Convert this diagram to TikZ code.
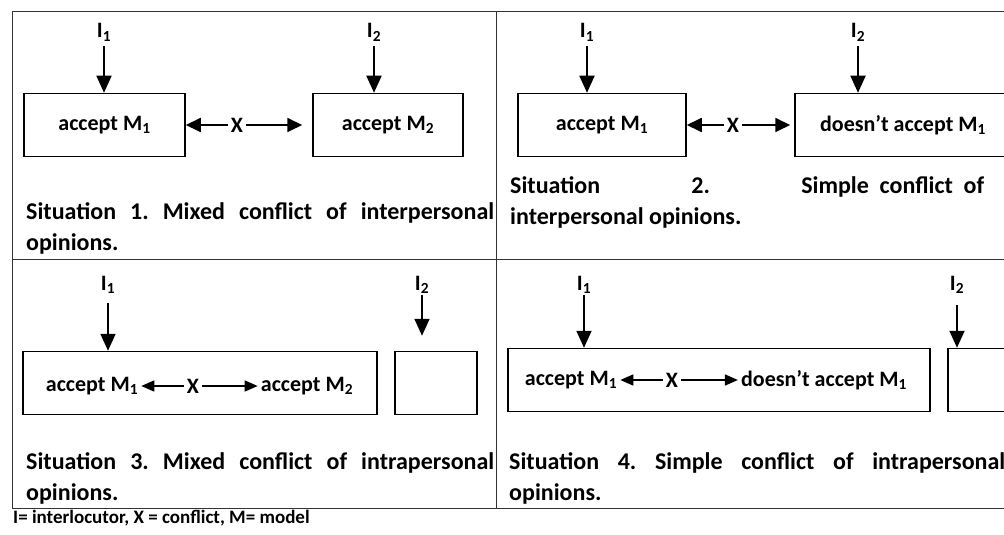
\documentclass[tikz,border=0pt]{standalone}
\usepackage{fontspec}
\setmainfont{Carlito}
\usetikzlibrary{arrows.meta}
\frenchspacing

\begin{document}
\begin{tikzpicture}[x=1pt, y=-1pt,
    frame/.style={line width=1pt, draw=black!80},
    box/.style={draw, line width=1.5pt, minimum width=#1, minimum height=63pt, inner sep=0pt},
    txt/.style={inner sep=3pt, font=\fontsize{22}{26}\selectfont\bfseries},
    ilabel/.style={inner sep=0pt, font=\fontsize{22}{26}\selectfont\bfseries},
    captxt/.style={inner sep=0pt, anchor=base west, text width=#1, align=justify,
      font=\fontsize{24}{31}\selectfont\bfseries},
    dn/.style={line width=1.8pt, -{Triangle[width=15pt,length=17pt]}},
    cf/.style={line width=1.8pt, -{Triangle[width=14pt,length=15pt]}},
    cfs/.style={line width=1.5pt, -{Triangle[width=11pt,length=13pt]}}]
    \useasboundingbox (0,0) rectangle (1004,535);
    \clip (0,0) rectangle (1004,535);
    % table lines
    \draw[frame] (1012,12) -- (12,12) -- (12,508) -- (1012,508);
    \draw[frame] (496,12) -- (496,508);
    \draw[frame] (12,259) -- (1012,259);

    % situation 1
    \node[box=161pt, txt] (b1) at (104.5,125) {accept M\textsubscript{1}};
    \node[box=150pt, txt] (b2) at (388,125) {accept M\textsubscript{2}};
    \node[ilabel, anchor=base] (i1) at (104,38) {I\textsubscript{1}};
    \node[ilabel, anchor=base] (i2) at (374,38) {I\textsubscript{2}};
    \draw[dn, shorten <=5pt] (i1) -- (i1 |- b1.north);
    \draw[dn, shorten <=5pt] (i2) -- (i2 |- b2.north);
    \node[txt] (x1) at (237,125) {X};
    \draw[cf] (x1) -- (b1);
    \draw[cf, shorten >=10pt] (x1) -- (b2);
    \node[captxt=468pt] (c1) at (26,219)
      {Situation 1. Mixed conflict of interpersonal\linebreak opinions.};

    % situation 2
    \node[box=168pt, txt] (b3) at (602,125) {accept M\textsubscript{1}};
    \node[box=216pt, txt] (b4) at (903,125) {doesn't accept M\textsubscript{1}};
    \node[ilabel, anchor=base] (i3) at (587,38) {I\textsubscript{1}};
    \node[ilabel, anchor=base] (i4) at (858,38) {I\textsubscript{2}};
    \draw[dn, shorten <=5pt] (i3) -- (i3 |- b3.north);
    \draw[dn, shorten <=5pt] (i4) -- (i4 |- b4.north);
    \node[txt] (x2) at (733,125) {X};
    \draw[cf] (x2) -- (b3);
    \draw[cf, shorten >=4pt] (x2) -- (b4);
    \node[captxt=474pt] (c2) at (510,193)
      {Situation\hfill 2.\hfill Simple\ \ conflict\ \ of\linebreak interpersonal opinions.};

    % situation 3
    \node[box=354pt] (b5) at (200,383) {};
    \node[box=82pt] (b6) at (436,383) {};
    \node[txt] (t1) at (92,386) {accept M\textsubscript{1}};
    \node[txt] (x3) at (193,386) {X};
    \node[txt] (t2) at (307,386) {accept M\textsubscript{2}};
    \draw[cfs] (x3) -- (t1);
    \draw[cfs] (x3) -- (t2);
    \node[ilabel, anchor=base] (i5) at (108,290) {I\textsubscript{1}};
    \node[ilabel, anchor=base] (i6) at (422,290) {I\textsubscript{2}};
    \draw[dn, shorten <=10pt] (i5) -- (i5 |- b5.north);
    \draw[dn, shorten <=2pt, shorten >=15pt] (i6) -- (i6 |- b6.north);
    \node[captxt=468pt] (c3) at (26,469)
      {Situation 3. Mixed conflict of intrapersonal\linebreak opinions.};

    % situation 4
    \node[box=422pt] (b7) at (719,380) {};
    \node[box=82pt] (b8) at (989,380) {};
    \node[txt] (t3) at (571,380) {accept M\textsubscript{1}};
    \node[txt] (x4) at (672,380) {X};
    \node[txt] (t4) at (824,380) {doesn't accept M\textsubscript{1}};
    \draw[cfs] (x4) -- (t3);
    \draw[cfs] (x4) -- (t4);
    \node[ilabel, anchor=base] (i7) at (584,290) {I\textsubscript{1}};
    \node[ilabel, anchor=base] (i8) at (957,290) {I\textsubscript{2}};
    \draw[dn, shorten <=2pt] (i7) -- (i7 |- b7.north);
    \draw[dn, shorten <=12pt] (i8) -- (i8 |- b8.north);
    \node[captxt=496pt] (c4) at (509,469)
      {Situation 4. Simple conflict of intrapersonal\linebreak opinions.};

    % legend
    \node[inner sep=0pt, anchor=base west, font=\fontsize{19}{23}\selectfont\bfseries]
      (note) at (13,523) {I= interlocutor, X = conflict, M= model};
\end{tikzpicture}
\end{document}
